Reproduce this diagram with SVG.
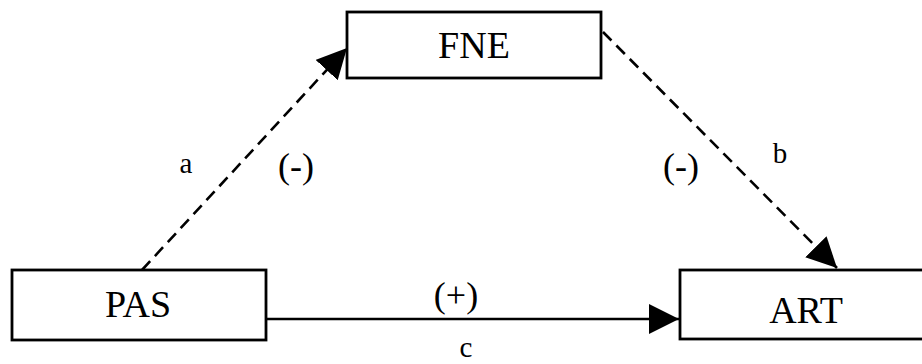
<svg xmlns="http://www.w3.org/2000/svg" width="922" height="364" viewBox="0 0 922 364">
<style>
.box{fill:#fff;stroke:#000;stroke-width:2.8}
text{font-family:"Liberation Serif","Times New Roman","DejaVu Serif",serif;fill:#000;text-anchor:middle}
.lbl{font-size:38px}
.edge{fill:none;stroke:#000;stroke-width:2.6}
.dash{stroke-dasharray:12 7}
.sign{font-size:36px}
.let{font-size:29px}
</style>
<defs>
<marker id="ah" markerUnits="userSpaceOnUse" markerWidth="31" markerHeight="31" refX="30" refY="15" orient="auto" viewBox="0 0 31 31">
<path d="M0,0 L30,15 L0,30 Z" fill="#000"/>
</marker>
</defs>
<rect width="922" height="364" fill="#fff"/>
<g id="connectors">
<line class="edge dash" x1="142" y1="270" x2="347" y2="48" marker-end="url(#ah)"/>
<line class="edge dash" x1="603" y1="32" x2="837" y2="268" marker-end="url(#ah)"/>
<line class="edge" x1="266" y1="319" x2="679" y2="319" marker-end="url(#ah)"/>
<text class="let" x="186" y="173">a</text>
<text class="sign" x="296" y="178">(-)</text>
<text class="sign" x="681" y="178">(-)</text>
<text class="let" x="780" y="163">b</text>
<text class="sign" x="456" y="307">(+)</text>
<text class="let" x="466" y="357">c</text>
</g>
<g id="PAS">
<rect class="box" x="12" y="270" width="254" height="70"/>
<text class="lbl" x="138" y="317">PAS</text>
</g>
<g id="FNE">
<rect class="box" x="347" y="12" width="254" height="66"/>
<text class="lbl" x="474" y="58">FNE</text>
</g>
<g id="ART">
<rect class="box" x="680" y="270" width="254" height="69"/>
<text class="lbl" x="806" y="323">ART</text>
</g>
</svg>
